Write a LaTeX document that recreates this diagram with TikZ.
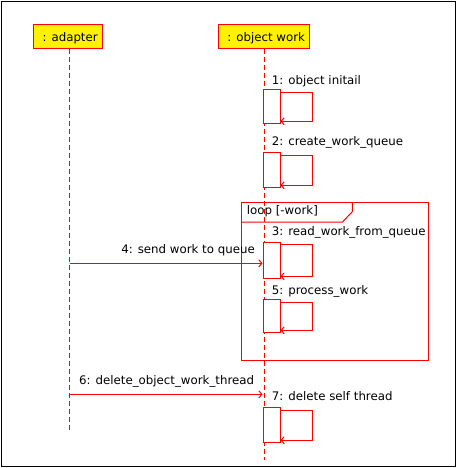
\documentclass[tikz,border=0pt]{standalone}
\usepackage{fontspec}
\setmainfont{DejaVu Sans}
\usetikzlibrary{arrows.meta}
\begin{document}
\begin{tikzpicture}[x=1pt,y=-1pt,
  every node/.style={font=\fontsize{11.8}{14}\selectfont, inner sep=0pt},
  head/.style={draw=red, fill=yellow, line width=1pt, minimum height=24pt, text height=9pt, text depth=0.2pt, anchor=north west},
  life/.style={draw=red, line width=1pt, dash pattern=on 5pt off 3pt},
  act/.style={draw=red, fill=white, line width=1pt, minimum width=17pt, anchor=north west},
  msg/.style={draw=red, line width=1pt, -{Straight Barb[length=3pt,width=7pt]}},
  lbl/.style={anchor=base west},
  lblr/.style={anchor=base east},
  loopframe/.style={draw=red, line width=1pt}]
\useasboundingbox (0,0) rectangle (457,468);
\draw[black, line width=1pt] (1.5,1.5) rectangle (455.5,466.5);

% lifeline heads
\node[head, minimum width=69pt] (adapter) at (33.3,24.3) {\hspace*{3.7pt}: adapter};
\node[head, minimum width=91pt] (obj) at (218.3,24.3) {\hspace*{3.7pt}: object work};
\coordinate (aEnd) at (69.5,430);
\coordinate (oEnd) at (264.5,460);
\draw[life] (adapter.south -| aEnd) -- (aEnd);
\draw[life] (obj.south -| oEnd) -- (oEnd);

% loop frame
\node[loopframe, anchor=north west, minimum width=187pt, minimum height=157.7pt] (loop) at (241.3,202.3) {};
\draw[loopframe] ([yshift=-19.7pt]loop.north west) -- ++(101.2,0) -- ++(9.8,-10.3) -- (loop.north west -| 352.3,0);
\node[lbl] (looplbl) at (246.7,214) {loop [-work]};

% activations
\node[act, minimum height=34pt] (a1) at (262.5,89.3) {};
\node[act, minimum height=35pt] (a2) at (262.5,152.3) {};
\node[act, minimum height=36.6pt] (a3) at (262.5,241.7) {};
\node[act, minimum height=33pt] (a5) at (262.5,299.3) {};
\node[act, minimum height=35pt] (a7) at (262.5,407.3) {};

% self messages
\foreach \a in {a1,a2,a3,a5,a7}{
  \draw[msg] ([yshift=-3pt]\a.north east) -- ++(32,0) |- ([yshift=3pt]\a.south east);
}

% messages from adapter
\coordinate (m4s) at (69.5,263.3);
\draw[msg] (m4s) -- (m4s -| a3.west);
\coordinate (m6s) at (69.5,394.3);
\coordinate (m6e) at (262.5,394.3);
\draw[msg] (m6s) -- (m6e);

% labels
\node[lbl] (l1) at (271.7,84.3) {1: object initail};
\node[lbl] (l2) at (271.7,146) {2: create\_work\_queue};
\node[lbl] (l3) at (271.7,235) {3: read\_work\_from\_queue};
\node[lblr] (l4) at (255,253) {4: send work to queue};
\node[lbl] (l5) at (271.7,294) {5: process\_work};
\node[lblr] (l6) at (254.3,384) {6: delete\_object\_work\_thread};
\node[lbl] (l7) at (271.7,400.7) {7: delete self thread};
\end{tikzpicture}
\end{document}
